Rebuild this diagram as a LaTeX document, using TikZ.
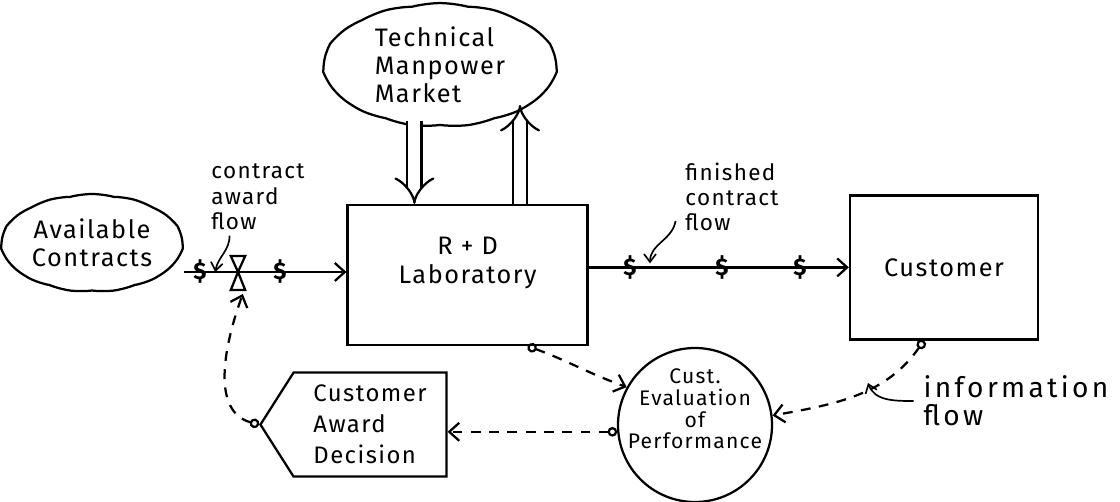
\documentclass[tikz,border=0pt]{standalone}
\usepackage{fontspec}
\setmainfont{Fira Sans}[LetterSpace=6]
\usetikzlibrary{arrows.meta,positioning,shapes.symbols,shapes.geometric}

\begin{document}
\begin{tikzpicture}[line width=1.6pt,
        every node/.style={align=center, font=\fontsize{18}{20}\selectfont},
        blob/.style={cloud, draw, cloud puffs=13, cloud puff arc=30, cloud ignores aspect},
        block/.style={draw, rectangle},
        dollar/.style={inner sep=0pt, font=\fontsize{17}{17}\selectfont\bfseries},
        note/.style={align=left, font=\fontsize{16}{18}\selectfont},
        flow/.style={-{Straight Barb[length=2.5mm,width=4.5mm]}},
        infolink/.style={dash pattern=on 7pt off 6pt,
                {Circle[open,length=2.4mm,width=2.4mm]}-{Straight Barb[length=2.5mm,width=4.5mm]}},
        pointer/.style={line width=1.2pt, -{Straight Barb[length=2mm,width=3mm]}}]
        \useasboundingbox (0,0) rectangle (28,12.525);

        \node[blob, minimum width=3.95cm, minimum height=2.45cm] (avail) at (2.3,6.45) {Available\\Contracts};
        \node[blob, minimum width=5.8cm, minimum height=2.8cm, align=left] (tech) at (11,10.9) {Technical\\Manpower\\Market};
        \node[block, minimum width=6cm, minimum height=3.5cm] (rd) at (11.69,5.65) {};
        \node (rdtext) at ([yshift=0.3cm]rd.center) {R + D\\Laboratory};
        \node[block, minimum width=4.7cm, minimum height=3.6cm] (cust) at (23.6,5.84) {Customer};
        \node[circle, draw, minimum size=3.85cm] (eval) at (17.375,1.9) {};
        \node[font=\fontsize{15}{15.5}\selectfont, inner sep=0pt] (evaltext) at ([yshift=0.4cm]eval.center)
                {Cust.\\Evaluation\\of\\Performance};
        \node[signal, signal to=west, signal pointer angle=115, draw, minimum width=4.65cm, minimum height=2.6cm,
                align=left, font=\fontsize{17}{22}\selectfont] (dec) at (9.25,1.91) {Customer\\Award\\Decision};

        % contract award flow with valve
        \coordinate (valve) at (5.95,5.725);
        \draw[flow] (valve -| avail.east) -- (valve -| rd.west);
        \draw (valve) -- ++(-0.18,0.4) -- ++(0.36,0) -- cycle;
        \draw (valve) -- ++(-0.18,-0.45) -- ++(0.36,0) -- cycle;
        \node[dollar] (d1) at (5.0,5.725) {\$};
        \node[dollar] (d2) at (7.0,5.725) {\$};

        % finished contract flow
        \draw[flow] (rd.east |- cust.west) -- (cust.west);
        \node[dollar] (d3) at (15.75,5.84) {\$};
        \node[dollar] (d4) at (18.05,5.84) {\$};
        \node[dollar] (d5) at (20.0,5.84) {\$};

        % manpower flows
        \coordinate (hire) at (10.36,9.5);
        \coordinate (quit) at (13.0,9.9);
        \draw[double, double distance=0.3cm, -{Implies}] (hire) -- (hire |- rd.north);
        \draw[double, double distance=0.3cm, -{Implies}] (quit |- rd.north) -- (quit);

        % information links
        \draw[infolink] ([xshift=1.5cm]rd.south) to[out=-20,in=160] (eval.151);
        \draw[infolink] (eval.185) -- (eval.185 -| dec.east);
        \draw[infolink] (dec.west) to[out=165,in=-110] ([xshift=0.12cm,yshift=-0.55cm]valve);
        \draw[infolink] ([xshift=-0.5cm]cust.south) to[out=-125,in=10] (eval.7);

        % labels
        \node[note] (awardlbl) at (6.45,7.6) {contract\\award\\flow};
        \node[note] (finlbl) at (18.3,7.6) {finished\\contract\\flow};
        \node[note, font=\fontsize{20}{20}\selectfont\addfontfeatures{LetterSpace=12}] (infolbl) at (25.4,2.5)
                {information\\flow};
        \coordinate (infotip) at (21.7,2.95);
        \draw[pointer] ([xshift=0.6cm]awardlbl.south west) to[out=-90,in=80] ([xshift=0.38cm]d1.center);
        \draw[pointer] ([xshift=-0.1cm,yshift=0.4cm]finlbl.south west) to[out=-100,in=90] ([xshift=0.5cm,yshift=0.1cm]d3.center);
        \draw[pointer] ([xshift=-0.1cm]infolbl.west) to[out=180,in=-70] (infotip);
\end{tikzpicture}
\end{document}
